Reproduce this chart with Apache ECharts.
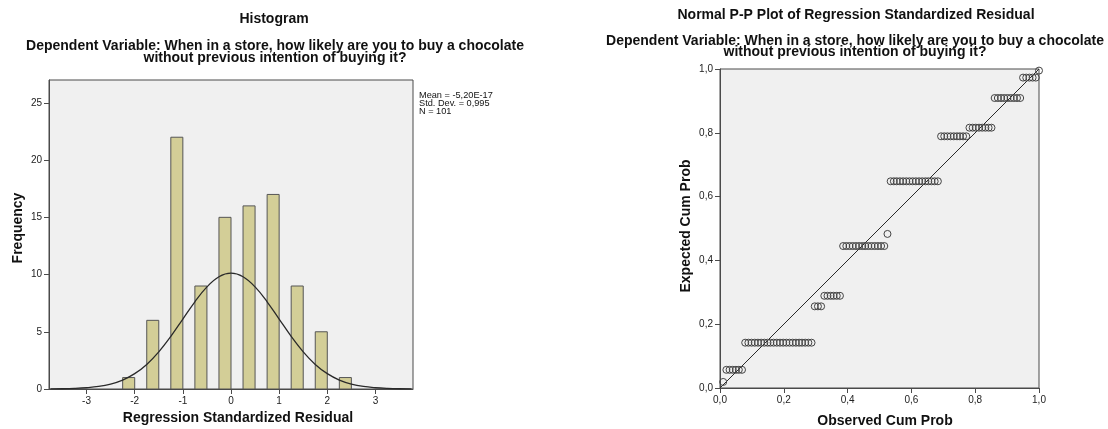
<!DOCTYPE html>
<html>
<head>
<meta charset="utf-8">
<script src="https://cdn.jsdelivr.net/npm/echarts@6/dist/echarts.min.js"></script>
<style>
html,body{margin:0;padding:0;background:#fff;}
#chart{width:1108px;height:429px;}
</style>
</head>
<body>
<div id="chart"></div>
<script>
// ---------- Histogram data ----------
var histBinStarts = [-2.25, -1.75, -1.25, -0.75, -0.25, 0.25, 0.75, 1.25, 1.75, 2.25];
var histCounts    = [1, 6, 22, 9, 15, 16, 17, 9, 5, 1];
var histBinWidth  = 0.25;
var histXTicks    = [-3, -2, -1, 0, 1, 2, 3];
var histYTicks    = [0, 5, 10, 15, 20, 25];
// normal curve overlay
var curveX = [-3.75,-3.5,-3.25,-3,-2.75,-2.5,-2.25,-2,-1.75,-1.5,-1.25,-1,-0.75,-0.5,-0.25,0,0.25,0.5,0.75,1,1.25,1.5,1.75,2,2.25,2.5,2.75,3,3.25,3.5,3.75];
var curveY = [0.01,0.02,0.05,0.11,0.22,0.43,0.78,1.34,2.15,3.25,4.60,6.11,7.62,8.92,9.81,10.12,9.81,8.92,7.62,6.11,4.60,3.25,2.15,1.34,0.78,0.43,0.22,0.11,0.05,0.02,0.01];
var statLines = ['Mean = -5,20E-17', 'Std. Dev. = 0,995', 'N = 101'];

// ---------- P-P plot data ----------
var ppExpected = [0.019, 0.057, 0.142, 0.256, 0.289, 0.445, 0.483, 0.648, 0.789, 0.816, 0.909, 0.973, 0.995];
var ppObserved = [
  [0.010],
  [0.020,0.030,0.040,0.050,0.059,0.069],
  [0.079,0.089,0.099,0.109,0.119,0.129,0.139,0.149,0.158,0.168,0.178,0.188,0.198,0.208,0.218,0.228,0.238,0.248,0.257,0.267,0.277,0.287],
  [0.297,0.307,0.317],
  [0.327,0.337,0.347,0.356,0.366,0.376],
  [0.386,0.396,0.406,0.416,0.426,0.436,0.446,0.455,0.465,0.475,0.485,0.495,0.505,0.515],
  [0.525],
  [0.535,0.545,0.554,0.564,0.574,0.584,0.594,0.604,0.614,0.624,0.634,0.644,0.653,0.663,0.673,0.683],
  [0.693,0.703,0.713,0.723,0.733,0.743,0.752,0.762,0.772],
  [0.782,0.792,0.802,0.812,0.822,0.832,0.842,0.851],
  [0.861,0.871,0.881,0.891,0.901,0.911,0.921,0.931,0.941],
  [0.950,0.960,0.970,0.980,0.990],
  [1.000]
];
var ppTicks = [0, 0.2, 0.4, 0.6, 0.8, 1.0];
var ppTickLabels = ['0,0', '0,2', '0,4', '0,6', '0,8', '1,0'];

// ---------- build ----------
var FONT = "'Liberation Sans', Arial, sans-serif";
var histData = histBinStarts.map(function (s, i) { return [s, s + histBinWidth, histCounts[i]]; });
var curveData = curveX.map(function (x, i) { return [x, curveY[i]]; });
var ppData = [];
ppObserved.forEach(function (run, i) { run.forEach(function (x) { ppData.push([x, ppExpected[i]]); }); });

var axisLineStyle = { color: '#4a4a4a', width: 1 };
var labelStyle = { fontFamily: FONT, fontSize: 10, color: '#222' };

function txt(x, y, text, opts) {
  opts = opts || {};
  return {
    type: 'text', x: x, y: y, rotation: opts.rot || 0, silent: true,
    style: {
      text: text, fill: '#111', font: (opts.bold ? 'bold ' : '') + (opts.size || 14) + 'px ' + FONT,
      textAlign: opts.align || 'center', textVerticalAlign: 'middle'
    }
  };
}
function ppFmt(v) {
  for (var i = 0; i < ppTicks.length; i++) { if (Math.abs(ppTicks[i] - v) < 1e-6) return ppTickLabels[i]; }
  return '';
}
function histFmt(list) {
  return function (v) {
    for (var i = 0; i < list.length; i++) { if (Math.abs(list[i] - v) < 1e-6) return String(list[i]); }
    return '';
  };
}

var chart = echarts.init(document.getElementById('chart'), null, { renderer: 'canvas' });
chart.setOption({
  animation: false,
  backgroundColor: '#ffffff',
  grid: [
    { left: 49, right: 695, top: 80, bottom: 40, show: true, backgroundColor: '#F0F0F0', borderColor: '#4a4a4a', borderWidth: 1, containLabel: false, outerBoundsMode: 'none' },
    { left: 720, right: 69, top: 69, bottom: 41, show: true, backgroundColor: '#F0F0F0', borderColor: '#4a4a4a', borderWidth: 1, containLabel: false, outerBoundsMode: 'none' }
  ],
  xAxis: [
    { type: 'value', gridIndex: 0, min: -3.78, max: 3.78,
      axisLine: { show: true, onZero: false, lineStyle: axisLineStyle },
      axisTick: { show: true, length: 5, lineStyle: axisLineStyle, customValues: histXTicks },
      axisLabel: Object.assign({ margin: 7, customValues: histXTicks, formatter: histFmt(histXTicks) }, labelStyle),
      splitLine: { show: false } },
    { type: 'value', gridIndex: 1, min: 0, max: 1, interval: 0.2,
      axisLine: { show: true, onZero: false, lineStyle: axisLineStyle },
      axisTick: { show: true, length: 5, lineStyle: axisLineStyle },
      axisLabel: Object.assign({ margin: 7, formatter: ppFmt }, labelStyle),
      splitLine: { show: false } }
  ],
  yAxis: [
    { type: 'value', gridIndex: 0, min: 0, max: 27,
      axisLine: { show: true, onZero: false, lineStyle: axisLineStyle },
      axisTick: { show: true, length: 5, lineStyle: axisLineStyle, customValues: histYTicks },
      axisLabel: Object.assign({ margin: 7, customValues: histYTicks, formatter: histFmt(histYTicks) }, labelStyle),
      splitLine: { show: false } },
    { type: 'value', gridIndex: 1, min: 0, max: 1, interval: 0.2,
      axisLine: { show: true, onZero: false, lineStyle: axisLineStyle },
      axisTick: { show: true, length: 5, lineStyle: axisLineStyle },
      axisLabel: Object.assign({ margin: 7, formatter: ppFmt }, labelStyle),
      splitLine: { show: false } }
  ],
  series: [
    { type: 'custom', xAxisIndex: 0, yAxisIndex: 0, data: histData, encode: { x: [0, 1], y: 2 }, clip: true,
      renderItem: function (params, api) {
        var p0 = api.coord([api.value(0), 0]);
        var p1 = api.coord([api.value(1), api.value(2)]);
        return { type: 'rect', shape: { x: p0[0], y: p1[1], width: p1[0] - p0[0], height: p0[1] - p1[1] },
          style: { fill: '#D3CE97', stroke: '#555555', lineWidth: 1 } };
      } },
    { type: 'line', xAxisIndex: 0, yAxisIndex: 0, data: curveData, smooth: 0.4, symbol: 'none', clip: true,
      lineStyle: { color: '#2a2a2a', width: 1.3 }, z: 5 },
    { type: 'line', xAxisIndex: 1, yAxisIndex: 1, data: [[0, 0], [1, 1]], symbol: 'none',
      lineStyle: { color: '#2a2a2a', width: 1 }, z: 3 },
    { type: 'scatter', xAxisIndex: 1, yAxisIndex: 1, data: ppData, symbol: 'circle', symbolSize: 7,
      itemStyle: { color: 'rgba(0,0,0,0)', borderColor: '#444444', borderWidth: 1, opacity: 1 }, z: 4 }
  ],
  graphic: [
    txt(274, 19.5, 'Histogram', { bold: true }),
    txt(275, 46.2, 'Dependent Variable: When in a store, how likely are you to buy a chocolate', { bold: true }),
    txt(275, 57.8, 'without previous intention of buying it?', { bold: true }),
    txt(18, 228, 'Frequency', { bold: true, rot: Math.PI / 2 }),
    txt(238, 418, 'Regression Standardized Residual', { bold: true }),
    txt(419, 95, statLines[0], { size: 9.2, align: 'left' }),
    txt(419, 103.3, statLines[1], { size: 9.2, align: 'left' }),
    txt(419, 111.6, statLines[2], { size: 9.2, align: 'left' }),
    txt(856, 14.7, 'Normal P-P Plot of Regression Standardized Residual', { bold: true }),
    txt(855, 41.2, 'Dependent Variable: When in a store, how likely are you to buy a chocolate', { bold: true }),
    txt(855, 52.6, 'without previous intention of buying it?', { bold: true }),
    txt(686, 226, 'Expected Cum Prob', { bold: true, rot: Math.PI / 2 }),
    txt(885, 421, 'Observed Cum Prob', { bold: true })
  ]
});
</script>
</body>
</html>
